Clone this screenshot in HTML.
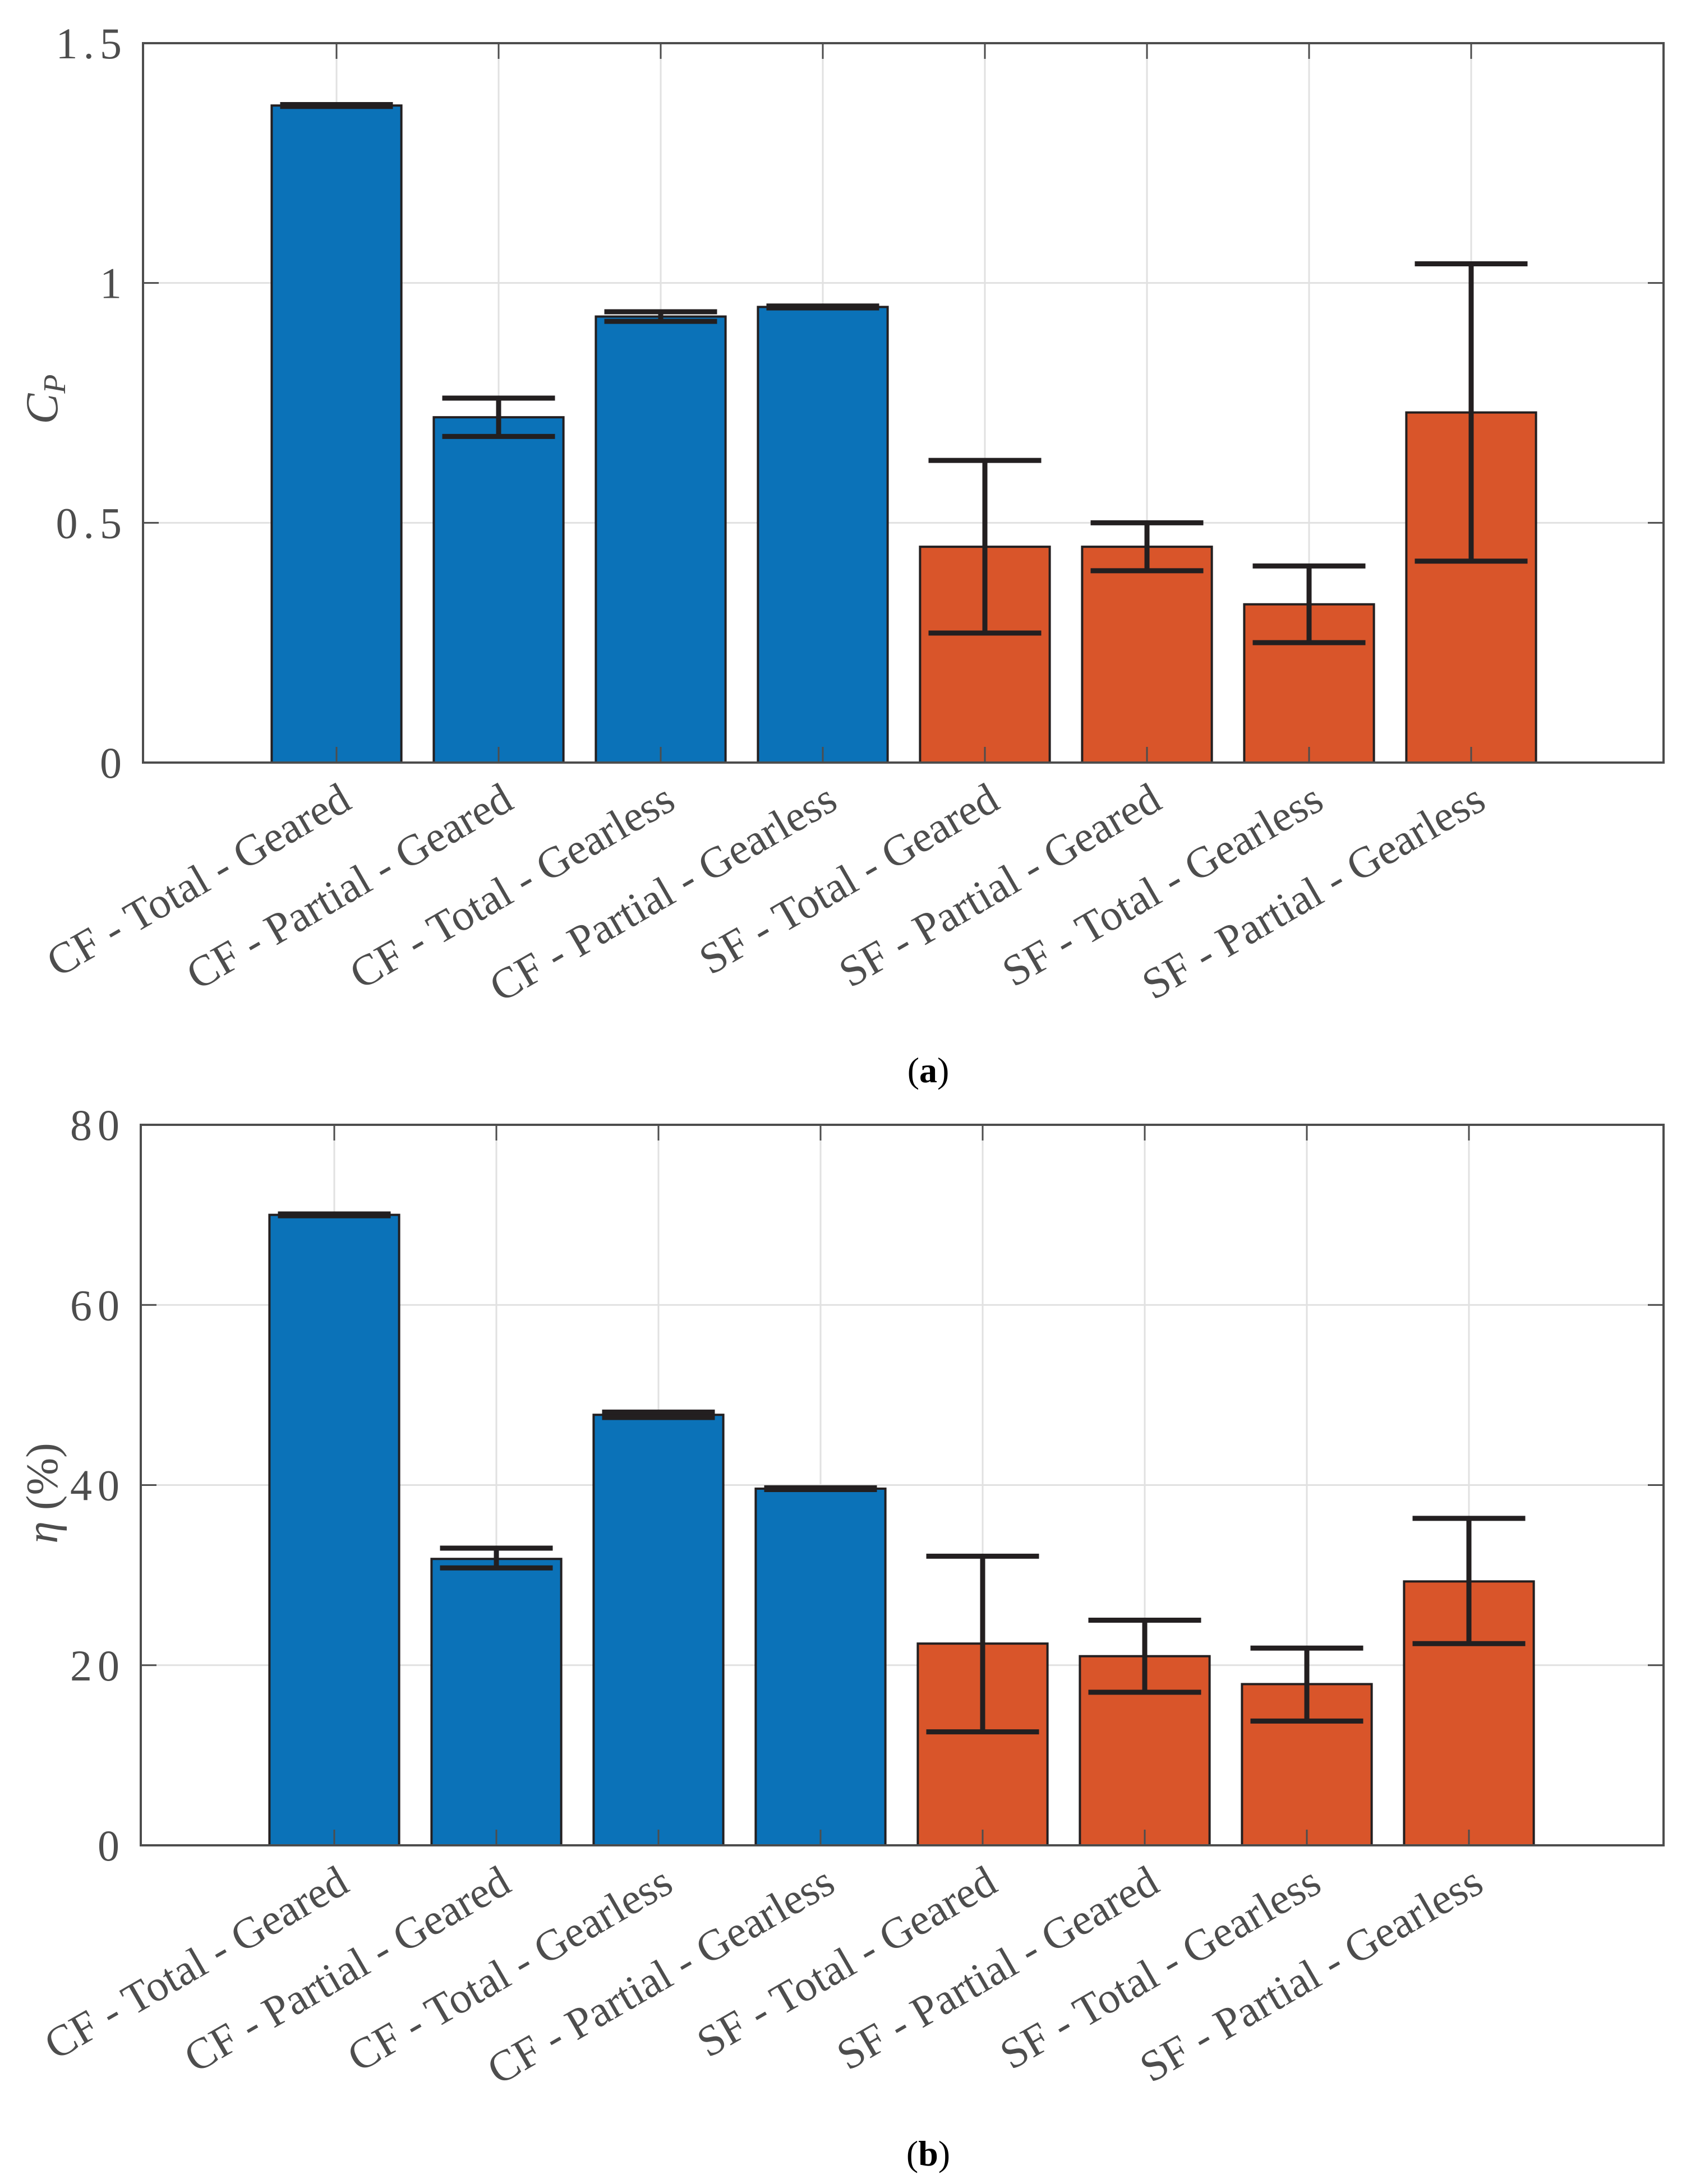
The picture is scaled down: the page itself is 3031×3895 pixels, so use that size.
<!DOCTYPE html>
<html><head><meta charset="utf-8">
<style>
html,body{margin:0;padding:0;background:#fff;}
svg{display:block;}
text{font-family:"Liberation Serif","DejaVu Serif",serif;fill:#4d4d4d;}
</style></head>
<body>
<svg id="fig" width="3031" height="3895" viewBox="0 0 3031 3895" xmlns="http://www.w3.org/2000/svg">
<rect x="0" y="0" width="3031" height="3895" fill="#fff"/>
</svg>
<script>
const categories = ["CF - Total - Geared","CF - Partial - Geared","CF - Total - Gearless","CF - Partial - Gearless","SF - Total - Geared","SF - Partial - Geared","SF - Total - Gearless","SF - Partial - Gearless"];
const groups = ["CF","CF","CF","CF","SF","SF","SF","SF"];
const cpValues = [1.37, 0.72, 0.93, 0.95, 0.45, 0.45, 0.33, 0.73];
const cpLow = [1.368, 0.68, 0.92, 0.948, 0.27, 0.40, 0.25, 0.42];
const cpHigh = [1.372, 0.76, 0.94, 0.952, 0.63, 0.50, 0.41, 1.04];
const cpTicks = [0, 0.5, 1, 1.5];
const cpTickLabels = ["0", "0.5", "1", "1.5"];
const etaValues = [70.0, 31.8, 47.8, 39.6, 22.4, 21.0, 17.9, 29.3];
const etaLow = [69.9, 30.8, 47.5, 39.5, 12.6, 17.0, 13.8, 22.4];
const etaHigh = [70.1, 33.0, 48.1, 39.7, 32.1, 25.0, 21.9, 36.3];
const etaTicks = [0, 20, 40, 60, 80];
const etaTickLabels = ["0", "20", "40", "60", "80"];

const NS = "http://www.w3.org/2000/svg";
const svg = document.getElementById('fig');
function mk(tag, attrs, parent){
  const e = document.createElementNS(NS, tag);
  for (const k in attrs) e.setAttribute(k, attrs[k]);
  (parent||svg).appendChild(e);
  return e;
}
const colors = {CF:"#0b72b8", SF:"#d9552a"};

function panel(id, box, ymax, values, lows, highs, ticks, tickLabels){
  const g = mk('g', {});
  
  
  const L = box.l, R = box.r, T = box.t, B = box.b;
  const spacing = 289;
  const x0 = 600 - 255 + L;
  const xs = i => x0 + i * spacing;
  const ys = v => B - (v / ymax) * (B - T);
  ticks.forEach((t) => {
    const ln = mk('line', {x1:L, x2:R, y1:ys(t), y2:ys(t), stroke:'#e1e1e1', 'stroke-width':3}, g);
    
    
  });
  categories.forEach((c, i) => {
    const ln = mk('line', {x1:xs(i), x2:xs(i), y1:T, y2:B, stroke:'#e1e1e1', 'stroke-width':3}, g);
    
    
  });
  const bw = 0.8 * spacing;
  values.forEach((v, i) => {
    const r = mk('rect', {x:xs(i)-bw/2, y:ys(v), width:bw, height:B-ys(v), fill:colors[groups[i]], stroke:'#231f20', 'stroke-width':4}, g);
    
    
  });
  categories.forEach((c, i) => {
    mk('line', {x1:xs(i), x2:xs(i), y1:B, y2:B-28, stroke:'#4d4d4d', 'stroke-width':3}, g);
    mk('line', {x1:xs(i), x2:xs(i), y1:T, y2:T+28, stroke:'#4d4d4d', 'stroke-width':3}, g);
  });
  ticks.forEach((t) => {
    mk('line', {x1:L, x2:L+28, y1:ys(t), y2:ys(t), stroke:'#4d4d4d', 'stroke-width':3}, g);
    mk('line', {x1:R, x2:R-28, y1:ys(t), y2:ys(t), stroke:'#4d4d4d', 'stroke-width':3}, g);
  });
  const cw = 201;
  values.forEach((v, i) => {
    const eg = mk('g', {stroke:'#231f20', 'stroke-width':9}, g);
    
    
    mk('line', {x1:xs(i), x2:xs(i), y1:ys(lows[i]), y2:ys(highs[i])}, eg);
    mk('line', {x1:xs(i)-cw/2, x2:xs(i)+cw/2, y1:ys(lows[i]), y2:ys(lows[i])}, eg);
    mk('line', {x1:xs(i)-cw/2, x2:xs(i)+cw/2, y1:ys(highs[i]), y2:ys(highs[i])}, eg);
  });
  const ax = mk('rect', {x:L, y:T, width:R-L, height:B-T, fill:'none', stroke:'#4d4d4d', 'stroke-width':4}, g);
  
  
  ticks.forEach((t, i) => {
    const tx = mk('text', {x:L-28, y:ys(t)+27, 'text-anchor':'end', 'font-size':78, 'letter-spacing':10}, g);
    tx.textContent = tickLabels[i];
    
    
  });
  categories.forEach((c, i) => {
    const ax_ = xs(i) + 30, ay = B + 80;
    const tx = mk('text', {x:ax_, y:ay, 'text-anchor':'end', 'font-size':78, transform:'rotate(-30 '+ax_+' '+ay+')'}, g);
    tx.textContent = c;
    
    
  });
}

panel('cp', {l:255, r:2966, t:77, b:1360}, 1.5, cpValues, cpLow, cpHigh, cpTicks, cpTickLabels);
panel('eta', {l:251, r:2966, t:2006, b:3291}, 80, etaValues, etaLow, etaHigh, etaTicks, etaTickLabels);

let t1 = mk('text', {x:0, y:0, 'font-size':82, 'font-style':'italic', transform:'translate(102 712) rotate(-90)', 'text-anchor':'middle'});
t1.innerHTML = 'C<tspan font-size="56" dy="14">P</tspan>';


let t2 = mk('text', {x:0, y:0, 'font-size':80, transform:'translate(102 2663) rotate(-90)', 'text-anchor':'middle'});
t2.innerHTML = '<tspan font-style="italic">η</tspan> (%)';



let c1 = mk('text', {x:1655, y:1930, 'font-size':64, 'text-anchor':'middle', style:'fill:#000'});
c1.innerHTML = '(<tspan font-weight="bold">a</tspan>)';


let c2 = mk('text', {x:1655, y:3862, 'font-size':64, 'text-anchor':'middle', style:'fill:#000'});
c2.innerHTML = '(<tspan font-weight="bold">b</tspan>)';


</script>
</body></html>
